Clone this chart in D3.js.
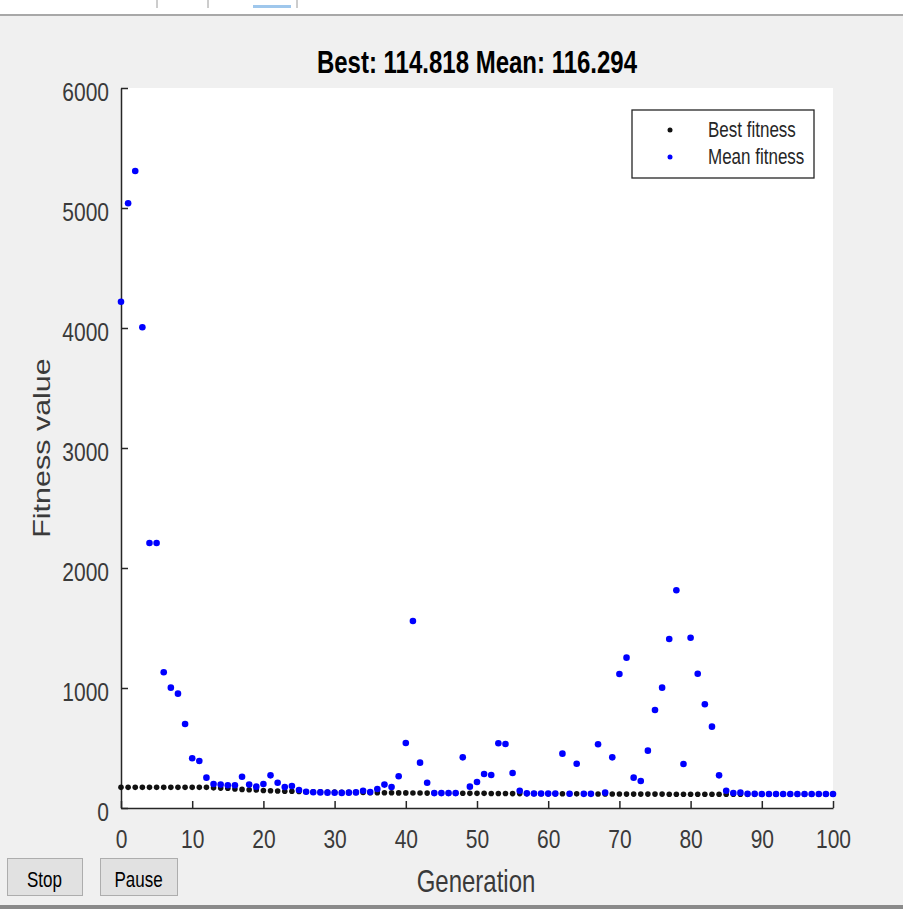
<!DOCTYPE html>
<html>
<head>
<meta charset="utf-8">
<script src="https://cdn.jsdelivr.net/npm/d3@7"></script>
<style>
body{margin:0;background:#f0f0f0;}
svg{display:block;font-family:"Liberation Sans",Arial,sans-serif;}
</style>
</head>
<body>
<svg id="chart" width="903" height="909"></svg>
<script>
var titleText="Best: 114.818 Mean: 116.294";
var xTicks=[0,10,20,30,40,50,60,70,80,90,100];
var yTicks=[0,1000,2000,3000,4000,5000,6000];
var seriesNames=["Best fitness","Mean fitness"];

var bestFitness=[172,172,172,172,172,172,172,172,172,172,172,172,172,
	168,166,164,
	158,155,152,150,
	146,144,142,140,139,
	137,136,135,134,133,132,
	131,130,130,129,128,128,127,127,126,126,
	125,125,124,124,124,123,123,123,122,122,122,121,121,121,120,120,120,120,119,119,
	119,119,118,118,118,118,117,117,117,117,116,116,116,116,116,116,115,115,115,115,
	115,115,115,115,115,115,115,115,115,115,115,115,115,115,115,115,115,115,115,114.818];

var meanFitness=[4219,5039,5308,4006,2208,2208,1131,1003,953,700,
	414,392,253,200,195,190,190,261,195,178,
	200,272,211,175,183,150,136,131,130,128,
	127,126,128,130,144,133,158,195,175,264,
	542,1558,378,211,124,124,124,124,422,178,
	217,283,275,539,533,292,144,122,121,121,
	120,120,453,119,369,118,118,531,128,422,
	1117,1253,253,225,478,817,1003,1408,1814,367,
	1419,1119,864,678,272,144,125,128,118,118,
	117,117,117,117,117,116.5,116.5,116.4,116.3,116.3,116.294];

var svg=d3.select("#chart");
var stretch=1.27;
var axisColor="#262626";

// window chrome
svg.append("rect").attr("x",0).attr("y",0).attr("width",903).attr("height",15).attr("fill","#ffffff");
svg.append("rect").attr("x",0).attr("y",14).attr("width",903).attr("height",2).attr("fill","#a8a8a8");
[157,208,297].forEach(function(x){
	svg.append("line").attr("x1",x).attr("x2",x).attr("y1",0).attr("y2",8).attr("stroke","#9a9a9a").attr("stroke-width",1);
});
svg.append("rect").attr("x",253).attr("y",5).attr("width",38).attr("height",3).attr("fill","#9fc7ec");
svg.append("rect").attr("x",0).attr("y",905).attr("width",903).attr("height",4).attr("fill","#8a8a8a");

var x=d3.scaleLinear().domain([0,100]).range([121,833]);
var y=d3.scaleLinear().domain([0,6000]).range([808,88]);

svg.append("rect").attr("x",121).attr("y",88).attr("width",712).attr("height",720).attr("fill","#ffffff");

function stretchedText(g,tx,ty,txt,size,anchor,weight,rot) {
	return g.append("text")
		.attr("transform","translate("+tx+","+ty+") scale(1,"+stretch+")"+(rot?" rotate("+rot+")":""))
		.attr("text-anchor",anchor)
		.attr("font-size",size)
		.attr("font-weight",weight||"normal")
		.attr("fill",axisColor)
		.text(txt);
}

// axes
var xAxis=d3.axisBottom(x).tickValues(xTicks).tickSizeInner(-7).tickSizeOuter(0).tickPadding(0).tickFormat(d3.format("d"));
var yAxis=d3.axisLeft(y).tickValues(yTicks).tickSizeInner(-7).tickSizeOuter(0).tickPadding(12).tickFormat(d3.format("d"));

var gx=svg.append("g").attr("transform","translate(0,808)").call(xAxis);
var gy=svg.append("g").attr("transform","translate(121,0)").call(yAxis);

[gx,gy].forEach(function(g){
	g.select(".domain").attr("stroke",axisColor).attr("stroke-width",1.5);
	g.selectAll(".tick line").attr("stroke",axisColor).attr("stroke-width",1.5);
	g.selectAll(".tick text").attr("fill","#3a3a3a").attr("font-size",21)
		.attr("font-family","'Liberation Sans',Arial,sans-serif");
});
gx.selectAll(".tick text").attr("dy",null).attr("y",40/stretch).attr("transform","scale(1,"+stretch+")");
gy.selectAll(".tick text").attr("dy",null).attr("y",12/stretch).attr("transform","scale(1,"+stretch+")");

// data points
svg.append("g").selectAll("circle").data(bestFitness).enter().append("circle")
	.attr("cx",function(d,i){return x(i);})
	.attr("cy",function(d){return y(d);})
	.attr("r",2.8)
	.attr("fill","#111111");
svg.append("g").selectAll("circle").data(meanFitness).enter().append("circle")
	.attr("cx",function(d,i){return x(i);})
	.attr("cy",function(d){return y(d);})
	.attr("r",3.3)
	.attr("fill","#0000ff");

// labels
stretchedText(svg,477,73,titleText,24,"middle","bold").attr("fill","#000000");
stretchedText(svg,476,892,"Generation",24,"middle").attr("fill","#3a3a3a");
stretchedText(svg,50,448,"Fitness value",24,"middle","normal",-90).attr("fill","#3a3a3a");

// legend
var lg=svg.append("g");
lg.append("rect").attr("x",632).attr("y",110).attr("width",182).attr("height",68)
	.attr("fill","#ffffff").attr("stroke",axisColor).attr("stroke-width",1.3);
var legendColors=["#111111","#0000ff"];
seriesNames.forEach(function(n,i){
	var cy=130+i*27;
	lg.append("circle").attr("cx",670).attr("cy",cy).attr("r",2.5).attr("fill",legendColors[i]);
	stretchedText(lg,708,cy+6.5,n,17,"start");
});

// buttons
[["Stop",7,75],["Pause",100,77]].forEach(function(b){
	svg.append("rect").attr("x",b[1]+0.5).attr("y",858.5).attr("width",b[2]).attr("height",37)
		.attr("fill","#e1e1e1").attr("stroke","#adadad").attr("stroke-width",1);
	stretchedText(svg,b[1]+b[2]/2,887,b[0],17,"middle").attr("fill","#000000");
});
</script>
</body>
</html>
